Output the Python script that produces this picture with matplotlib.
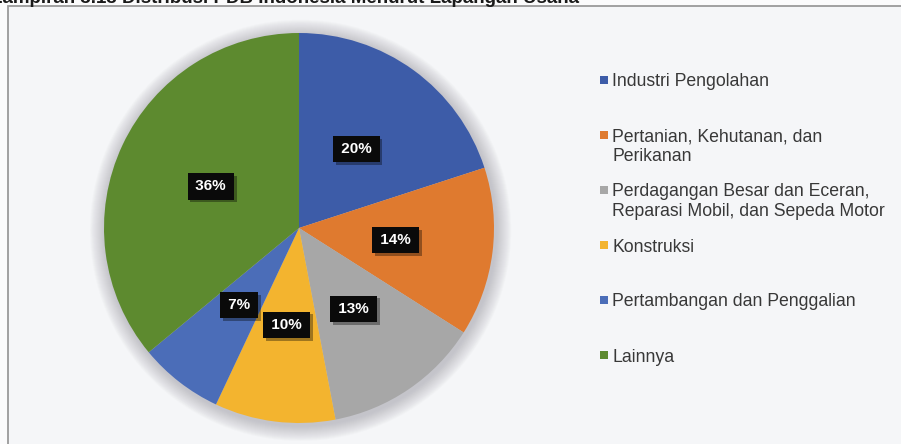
import matplotlib
matplotlib.use("Agg")
import matplotlib.pyplot as plt
import matplotlib.patheffects as pe
from matplotlib.patches import Rectangle, Circle

plt.rcParams['font.family'] = ['Liberation Sans', 'DejaVu Sans']

categories = [
    "Industri Pengolahan",
    "Pertanian, Kehutanan, dan\nPerikanan",
    "Perdagangan Besar dan Eceran,\nReparasi Mobil, dan Sepeda Motor",
    "Konstruksi",
    "Pertambangan dan Penggalian",
    "Lainnya",
]
values = [20, 14, 13, 10, 7, 36]
colors = ["#3d5ca8", "#df7a2f", "#a7a7a7", "#f3b42f", "#4b6db8", "#5d8a2f"]
title_text = "Lampiran 3.13 Distribusi PDB Indonesia Menurut Lapangan Usaha"

W, H = 901, 444
fig = plt.figure(figsize=(W / 100, H / 100), dpi=100, facecolor="#fbfbfc")

def fx(px):
    return px / W

def fy(py):
    return 1 - py / H

# frame
frame = Rectangle((fx(8), fy(460)), fx(905) - fx(8), fy(6) - fy(460),
                  transform=fig.transFigure, facecolor="#f5f6f8",
                  edgecolor="#9a9a9a", linewidth=1.3, zorder=-5)
fig.patches.append(frame)

# cut-off title
fig.text(fx(-9), fy(3), title_text, fontsize=13.5, fontweight="bold",
         color="#1a1a1a", va="baseline", ha="left")

# pie
cx, cy, R = 299, 228, 195
lim = 1.12
side = R * lim * 2
ax = fig.add_axes([fx(cx - R * lim), fy(cy + R * lim), side / W, side / H])
ax.set_zorder(2)
ax.patch.set_visible(False)

wedges, texts, autotexts = ax.pie(
    values, colors=colors, startangle=90, counterclock=False, radius=1.0,
    autopct=lambda p: " %d%% " % round(p), pctdistance=0.5,
    textprops=dict(color="white", fontsize=11, fontweight="bold"),
    wedgeprops=dict(linewidth=0, zorder=2),
)
ax.set_xlim(-lim, lim)
ax.set_ylim(-lim, lim)
ax.set_aspect("equal")
ax.axis("off")

# soft shadow halo
for k in range(16):
    r = 1.0 + 0.005 * (16 - k)
    ax.add_patch(Circle((0.008, -0.012), r, facecolor="#8a8a94", alpha=0.03,
                        edgecolor="none", zorder=0))

for t in autotexts:
    t.set_bbox(dict(boxstyle="square,pad=0.25", facecolor="#0a0a0a",
                    edgecolor="none", mutation_aspect=1.6))
    t.get_bbox_patch().set_path_effects([
        pe.SimplePatchShadow(offset=(2, -2), shadow_rgbFace="#000000", alpha=0.35),
        pe.Normal()])
    t.set_zorder(5)

# legend (manual, first lines aligned)
for i, (cat, col) in enumerate(zip(categories, colors)):
    ytop = 74 + i * 55
    fig.patches.append(Rectangle((fx(600), fy(ytop + 10)), fx(8), 8 / H,
                                 transform=fig.transFigure, facecolor=col,
                                 edgecolor="none", zorder=3))
    fig.text(fx(612), fy(ytop - 0.5), cat, fontsize=12.7, color="#383838",
             va="top", ha="left", linespacing=1.2)

fig.savefig("out.png", dpi=100, facecolor=fig.get_facecolor())
